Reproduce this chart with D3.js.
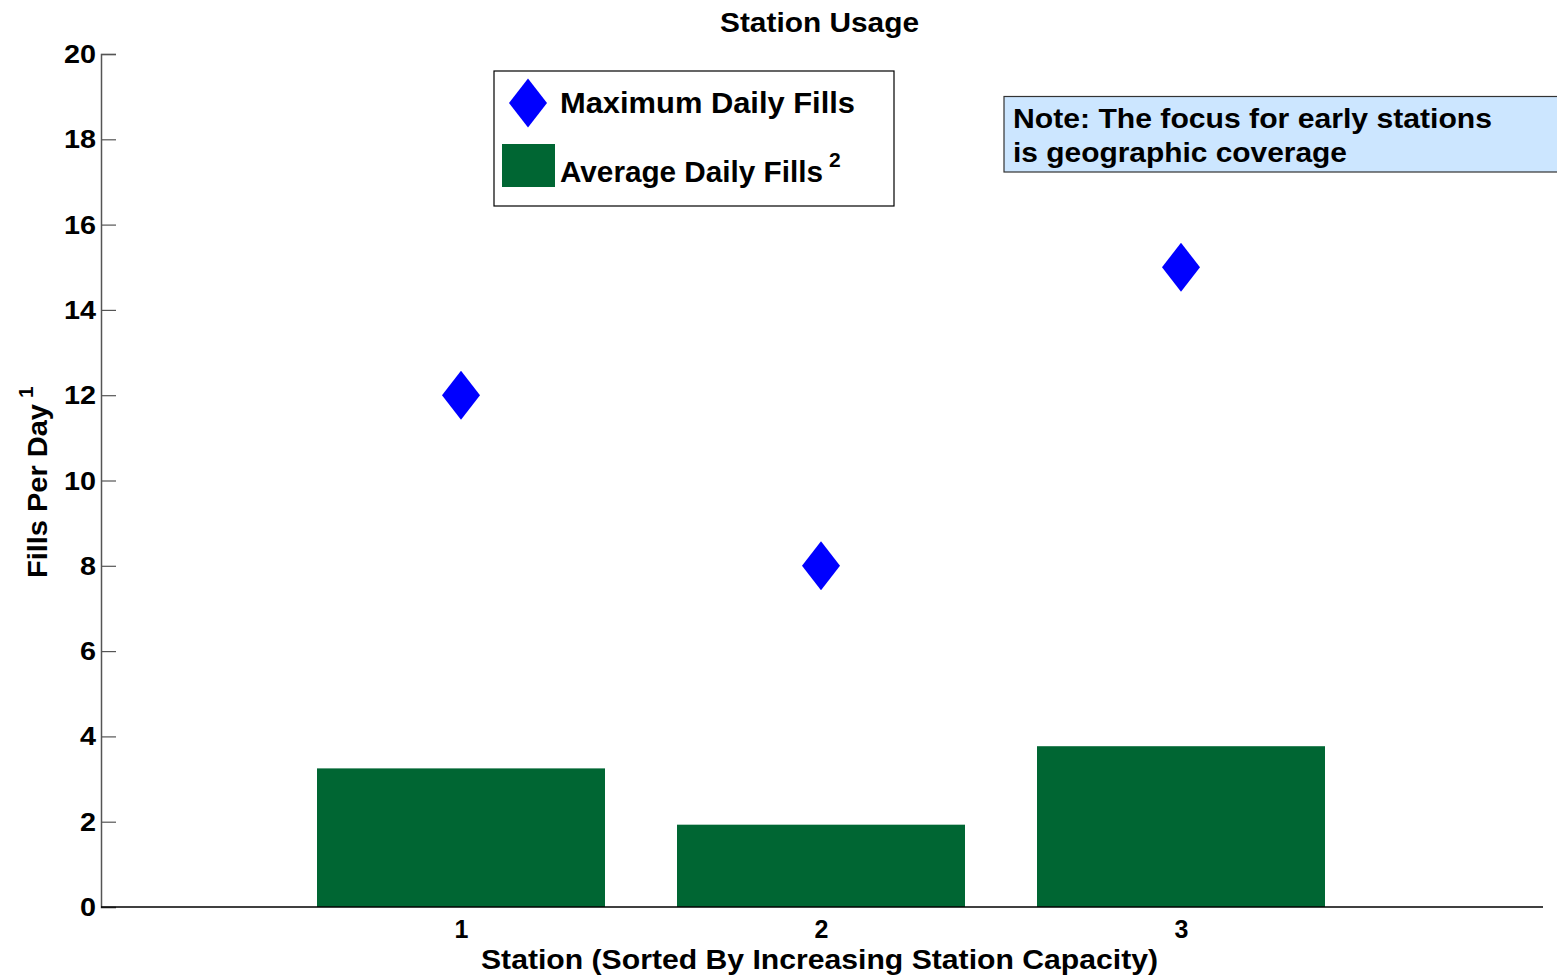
<!DOCTYPE html>
<html><head><meta charset="utf-8">
<script src="https://cdn.jsdelivr.net/npm/d3@7"></script>
<style>body{margin:0;background:#fff;} text{font-family:"Liberation Sans",Arial,sans-serif;font-weight:bold;fill:#000;}</style>
</head><body>
<svg id="c" width="1557" height="980"></svg>
<script>
const stations = [1, 2, 3];
const avgFills = [3.25, 1.93, 3.77];
const maxFills = [12, 8, 15];
const yTicks = [0, 2, 4, 6, 8, 10, 12, 14, 16, 18, 20];

const svg = d3.select("#c");
const x = d3.scaleLinear().domain([0, 4]).range([101, 1541]);
const y = d3.scaleLinear().domain([0, 20]).range([907, 54]);
const barW = x(0.8) - x(0);

function fitText(sel, len) {
  sel.attr("textLength", len).attr("lengthAdjust", "spacingAndGlyphs");
  return sel;
}

// bars
svg.selectAll("rect.bar").data(stations).join("rect")
  .attr("class", "bar")
  .attr("x", (d) => x(d) - barW / 2)
  .attr("y", (d, i) => y(avgFills[i]))
  .attr("width", barW)
  .attr("height", (d, i) => y(0) - y(avgFills[i]))
  .attr("fill", "#006633");

// diamonds
const dw = 19, dh = 24.5;
const diamond = (cx, cy) => `M${cx},${cy - dh}L${cx + dw},${cy}L${cx},${cy + dh}L${cx - dw},${cy}Z`;
svg.selectAll("path.pt").data(stations).join("path")
  .attr("class", "pt")
  .attr("d", (d, i) => diamond(x(d), y(maxFills[i])))
  .attr("fill", "#0000ff");

// y axis
const yAxis = d3.axisRight(y).tickValues(yTicks).tickSize(15).tickFormat("");
const gy = svg.append("g").attr("transform", "translate(101,0)").call(yAxis);
gy.select(".domain").attr("stroke", "#555").attr("stroke-width", 1.5);
gy.selectAll(".tick line").attr("stroke", "#555").attr("stroke-width", 1.2);
svg.selectAll("text.ytl").data(yTicks).join("text")
  .attr("class", "ytl")
  .attr("x", 96).attr("y", (d) => y(d) + 9)
  .attr("text-anchor", "end").attr("font-size", 25)
  .attr("textLength", (d) => (String(d).length === 2 ? 32 : 16)).attr("lengthAdjust", "spacingAndGlyphs")
  .text((d) => d);

// x axis
const xAxis = d3.axisBottom(x).tickValues(stations).tickSize(0).tickFormat(d3.format("d"));
const gx = svg.append("g").attr("transform", "translate(0,907)").call(xAxis);
gx.select(".domain").attr("stroke", "#000").attr("stroke-width", 1.5).attr("d", "M101,0H1543");
gx.selectAll(".tick text").attr("font-size", 25).attr("fill", "#000")
  .style("font-family", '"Liberation Sans",Arial,sans-serif').style("font-weight", "bold")
  .attr("dy", null).attr("y", 31);

// title
fitText(svg.append("text").attr("x", 720).attr("y", 32).attr("font-size", 27), 199).text("Station Usage");

// x label
fitText(svg.append("text").attr("x", 481).attr("y", 969).attr("font-size", 27), 677)
  .text("Station (Sorted By Increasing Station Capacity)");

// y label
fitText(svg.append("text").attr("transform", "translate(47,578) rotate(-90)").attr("font-size", 27), 174)
  .text("Fills Per Day");
svg.append("text").attr("transform", "translate(33,398) rotate(-90)").attr("font-size", 21).text("1");

// legend
svg.append("rect").attr("x", 494).attr("y", 71).attr("width", 400).attr("height", 135)
  .attr("fill", "#fff").attr("stroke", "#000").attr("stroke-width", 1.2);
svg.append("path").attr("d", diamond(528, 103)).attr("fill", "#0000ff");
svg.append("rect").attr("x", 502).attr("y", 144).attr("width", 53).attr("height", 43).attr("fill", "#006633");
fitText(svg.append("text").attr("x", 560).attr("y", 113).attr("font-size", 29), 295).text("Maximum Daily Fills");
fitText(svg.append("text").attr("x", 560).attr("y", 182).attr("font-size", 29), 263).text("Average Daily Fills");
svg.append("text").attr("x", 829).attr("y", 167).attr("font-size", 21).text("2");

// note
svg.append("rect").attr("x", 1004).attr("y", 96.5).attr("width", 560).attr("height", 75.5)
  .attr("fill", "#cce6ff").attr("stroke", "#333").attr("stroke-width", 1.2);
fitText(svg.append("text").attr("x", 1013).attr("y", 128).attr("font-size", 27), 479).text("Note: The focus for early stations");
fitText(svg.append("text").attr("x", 1013).attr("y", 162).attr("font-size", 27), 334).text("is geographic coverage");
</script>
</body></html>
